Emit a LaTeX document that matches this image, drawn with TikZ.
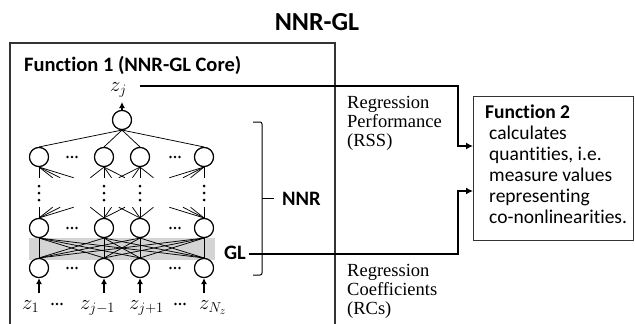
\documentclass[tikz,border=0pt]{standalone}
\usepackage{fontspec}
\usepackage{mathtools}
\setmainfont{Carlito}[Ligatures=NoCommon]
\newfontfamily\tnr{Liberation Serif}
\usetikzlibrary{arrows.meta,calc}
\newcommand\fsz[2]{\fontsize{#1}{#2}\selectfont}
\begin{document}
\begin{tikzpicture}[x=1pt,y=-1pt,
  neuron/.style={circle,draw,line width=1.1pt,minimum size=19pt,inner sep=0pt,fill=white},
  conn/.style={line width=0.75pt},
  flow/.style={line width=2.2pt},
  arr/.style={-{Latex[length=6pt,width=6pt]},line width=1.3pt},
  flowarr/.style={flow,-{Latex[length=7pt,width=7pt]}},
  dotc/.style={circle,fill=black,inner sep=0pt,minimum size=2.8pt},
  boxline/.style={draw=black!80,line width=1.2pt},
  boldlbl/.style={font=\bfseries\fsz{20.5}{24}},
  mathlbl/.style={font=\fsz{21}{24},inner sep=0pt},
  serif/.style={font=\tnr\fsz{18.5}{19},align=left,inner sep=0pt}]
\useasboundingbox (0,0) rectangle (635,324);
% title
\node[font=\bfseries\fsz{26}{30}] (title) at (317,22) {NNR-GL};
% function 1 box
\draw[boxline] (10,324) -- (10,43) -- (335,43) -- (335,324);
\node[boldlbl,anchor=base west,inner sep=0pt] (f1) at (24,71) {Function 1 (NNR-GL Core)};
% gray GL band
\fill[black!17] (29,238) rectangle (215,260);
% neurons
\node[neuron] (O) at (122,120) {};
\foreach \i/\x in {1/39,2/104,3/140,4/204}{
  \node[neuron] (T\i) at (\x,157) {};
  \node[neuron] (M\i) at (\x,228) {};
  \node[neuron] (B\i) at (\x,268) {};
}
% connections
\foreach \i in {1,...,4}{
  \draw[conn] (O.south) -- (T\i.north);
  \foreach \j in {1,...,4}{
    \draw[conn] (T\i.south) -- ($(T\i.south)!0.21!(M\j.north)$);
    \draw[conn] (M\i.north) -- ($(M\i.north)!0.21!(T\j.south)$);
    \draw[conn] (M\i.south) -- (B\j.north);
  }
}
% redraw neurons over lines
\foreach \i in {1,...,4}{
  \node[neuron] at (T\i) {};
  \node[neuron] at (M\i) {};
  \node[neuron] at (B\i) {};
}
\node[neuron] at (O) {};
% horizontal dots between neurons
\foreach \y in {157,228,268}{
  \foreach \x in {72,175}{
    \foreach \d in {-4.5,0,4.5}{
      \node[dotc] at (\x+\d,\y) {};
    }
  }
}
% dots between input labels
\foreach \x in {57,180}{
  \foreach \d in {-4.5,0,4.5}{
    \node[dotc] at (\x+\d,304) {};
  }
}
% vertical dots
\foreach \x in {39,104,140,204}{
  \foreach \y in {186,193,200}{
    \node[dotc,minimum size=3pt] at (\x,\y) {};
  }
}
% output arrow and label
\node[mathlbl,anchor=base west] (zj) at (110,91) {$z_j$};
\coordinate (oout) at (122,102);
\draw[arr] (O.north) -- (oout);
% input arrows and labels
\foreach \i/\x in {1/39,2/104,3/140,4/204}{
  \coordinate (in\i) at (\x,293);
  \draw[arr] (in\i) -- (B\i.south);
}
\node[mathlbl,anchor=base west] (z1) at (22,309) {$z_1$};
\node[mathlbl,anchor=base west] (z2) at (80,309) {$z_{j-1}$};
\node[mathlbl,anchor=base west] (z3) at (129,309) {$z_{j+1}$};
\node[mathlbl,anchor=base west] (z4) at (199,309) {$z_{N_z}$};
% bracket and labels
\draw[line width=1pt,rounded corners=2pt] (253,122) -- (262,122) -- (262,275) -- (253,275);
\coordinate (brmid) at (262,198);
\coordinate (brtick) at (274,198);
\draw[line width=1pt] (brmid) -- (brtick);
\node[boldlbl,anchor=west,inner sep=0pt] (nnr) at (282,199) {NNR};
\node[boldlbl,anchor=east,inner sep=0pt] (gl) at (246,253) {GL};
% function 2
\node[boxline,rectangle,minimum width=160pt,minimum height=144pt,anchor=north west] (F2) at (473,96) {};
\node[anchor=north west,align=left,inner sep=0pt,font=\fsz{19.5}{21}] (f2t) at (485,105)
  {\textbf{Function 2}\\\hspace{4pt}calculates\\\hspace{4pt}quantities, i.e.\\\hspace{4pt}measure values\\\hspace{4pt}representing\\\hspace{4pt}co-nonlinearities.};
% flow lines
\coordinate (zjR) at (140,86);
\coordinate (c1) at (458,86);
\coordinate (c2) at (458,254);
\coordinate (f2in1) at (473,146);
\coordinate (f2in2) at (473,191);
\draw[flowarr] (zjR) -- (c1) |- (f2in1);
\draw[flowarr] ($(gl.east)+(3,1)$) -- (c2) |- (f2in2);
% regression labels
\node[serif,anchor=north west] (rss) at (347,96) {Regression\\Performance\\(RSS)};
\node[serif,anchor=north west] (rcs) at (347,264) {Regression\\Coefficients\\(RCs)};
\end{tikzpicture}
\end{document}
